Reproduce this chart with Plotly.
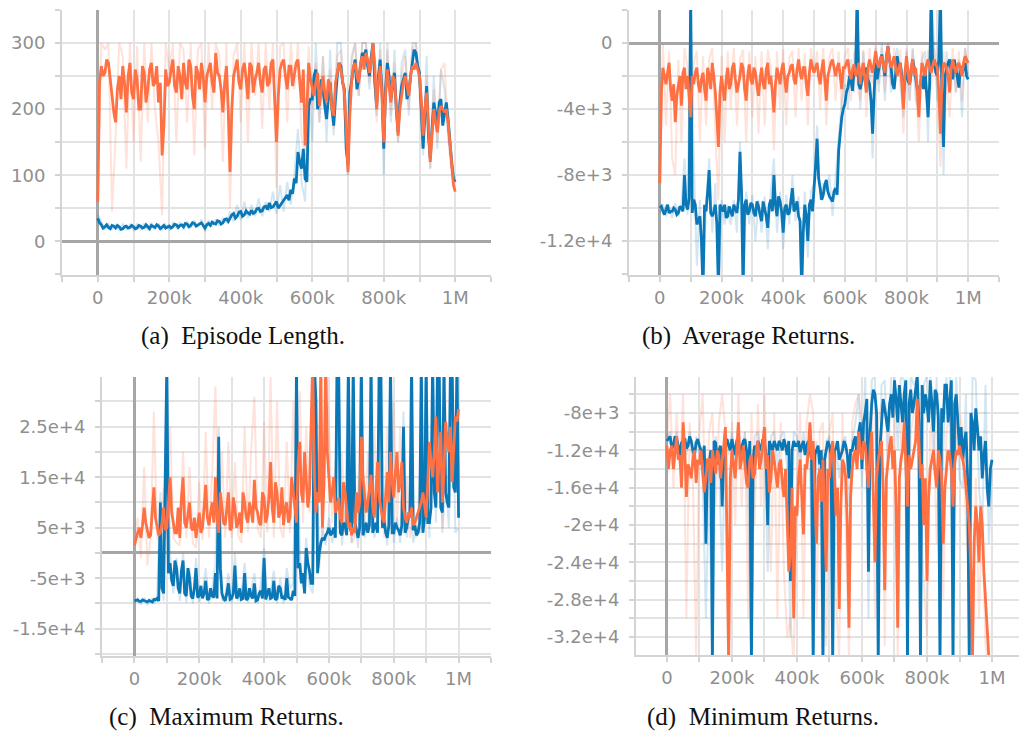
import numpy as np
import plotly.graph_objects as go

# ---------------- data ----------------
# main samples at 0, 10k, ..., 1M; "MID" samples at 5k, 15k, ..., 995k
STEPS = [i * 10000 for i in range(101)]
MID_STEPS = [5000 + i * 10000 for i in range(100)]
X_TICK_VALS = [i * 100000 for i in range(-1, 12)]
X_TICK_TEXT = ["", "0", "", "200k", "", "400k", "", "600k", "", "800k", "", "1M", ""]

# (a) Episode Length
A_BLUE = [35, 25, 22, 21, 24, 20, 22, 19, 23, 21,
          22, 20, 23, 21, 22, 24, 21, 23, 22, 20,
          23, 22, 25, 24, 22, 26, 24, 27, 25, 28,
          20, 27, 29, 26, 30, 28, 34, 36, 42, 38,
          45, 40, 43, 47, 44, 50, 46, 53, 58, 52,
          60, 55, 62, 70, 78, 95, 135, 110, 95, 205,
          215, 260, 215, 230, 185, 240, 175, 250, 265, 230,
          115, 245, 275, 245, 285, 290, 250, 300, 205, 275,
          140, 270, 215, 255, 165, 235, 255, 225, 270, 285,
          255, 140, 235, 125, 210, 170, 215, 195, 185, 120,
          90]
A_BLUE_MID = [28, 20, 25, 19, 23, 24, 18, 22, 20, 24,
              19, 24, 20, 25, 19, 22, 25, 19, 24, 22,
              20, 26, 21, 25, 27, 22, 28, 23, 26, 24,
              25, 24, 27, 31, 26, 33, 30, 40, 35, 44,
              38, 46, 41, 42, 49, 45, 52, 48, 51, 57,
              50, 58, 66, 62, 72, 88, 120, 140, 90, 215,
              250, 200, 245, 205, 215, 200, 215, 270, 240, 140,
              225, 260, 230, 270, 280, 265, 280, 240, 250, 230,
              230, 250, 235, 200, 210, 245, 215, 250, 290, 265,
              200, 190, 160, 170, 195, 210, 175, 210, 150, 95]
A_ORANGE = [60, 265, 255, 270, 220, 180, 250, 265, 195, 270,
            215, 245, 200, 255, 230, 270, 240, 210, 130, 260,
            240, 275, 225, 250, 270, 230, 265, 200, 255, 270,
            210, 260, 240, 285, 250, 195, 265, 105, 250, 275,
            230, 270, 215, 265, 245, 270, 225, 265, 240, 275,
            150, 260, 275, 230, 265, 250, 275, 210, 145, 270,
            230, 240, 205, 250, 210, 235, 190, 255, 260, 225,
            105, 240, 270, 240, 280, 285, 255, 300, 200, 265,
            150, 260, 210, 245, 160, 225, 250, 220, 265, 270,
            250, 160, 225, 120, 200, 165, 205, 195, 180, 110,
            75]
A_ORANGE_MID = [240, 250, 275, 240, 195, 230, 215, 240, 250, 225,
                260, 200, 265, 210, 260, 235, 265, 240, 175, 235,
                260, 235, 265, 215, 240, 275, 220, 265, 230, 250,
                250, 270, 225, 255, 230, 240, 200, 200, 265, 240,
                260, 245, 270, 225, 255, 240, 260, 235, 270, 215,
                220, 270, 250, 265, 235, 270, 240, 260, 200, 245,
                220, 255, 230, 225, 245, 200, 240, 270, 240, 170,
                190, 265, 250, 270, 260, 275, 270, 265, 240, 220,
                220, 235, 250, 205, 200, 240, 235, 250, 260, 260,
                215, 200, 175, 160, 180, 195, 200, 200, 150, 85]
A_ORANGE_RAW = [60, 300, 290, 300, 45, 160, 300, 280, 110, 300,
                150, 295, 120, 300, 180, 300, 200, 150, 40, 300,
                260, 300, 150, 300, 290, 180, 300, 130, 290, 300,
                140, 300, 200, 300, 280, 120, 300, 50, 280, 300,
                180, 300, 150, 300, 220, 300, 170, 300, 200, 300,
                80, 295, 300, 180, 300, 230, 300, 160, 130, 295,
                200, 270, 180, 280, 190, 260, 170, 280, 290, 200,
                100, 270, 300, 220, 300, 300, 240, 300, 180, 290,
                140, 290, 190, 270, 150, 250, 280, 200, 290, 300,
                230, 150, 250, 110, 230, 150, 260, 270, 160, 100,
                75]
A_BLUE_RAW = [40, 30, 17, 26, 18, 25, 17, 26, 18, 25,
              17, 26, 18, 27, 17, 28, 18, 27, 17, 25,
              18, 28, 20, 29, 18, 30, 20, 32, 21, 33,
              15, 32, 22, 33, 24, 35, 28, 45, 30, 55,
              32, 60, 35, 55, 38, 65, 38, 60, 45, 75,
              42, 85, 45, 90, 55, 100, 170, 90, 60, 250,
              150, 300, 180, 280, 150, 290, 160, 300, 300, 200,
              100, 280, 300, 220, 300, 300, 230, 300, 190, 300,
              100, 300, 180, 290, 150, 270, 290, 190, 300, 300,
              240, 130, 280, 110, 250, 140, 260, 230, 160, 110,
              95]

# (b) Average Returns
B_BLUE = [-10000, -10200, -10100, -10300, -10200, -10100, -10300, -10000, -8000, -10100,
          3000, -9500, -11000, -10500, -15000, -10200, -7700, -10500, -9800, -15000,
          -10000, -9800, -10500, -10200, -9800, -10300, -6600, -15000, -9500, -10200,
          -9800, -10500, -9900, -10800, -10000, -11200, -9500, -8000, -10500, -9600,
          -11500, -9800, -10300, -8800, -10000, -10500, -15000, -9800, -12000, -9500,
          -9000, -5800, -8800, -9200, -8300, -9300, -9600, -8800, -6500, -4500,
          -3700, -2700, -2300, -1600, 3000, -2800, -2000, -1500, -2500, -5500,
          -1200, -1500, -700, -2000, -200, -1500, -2800, -800, -1200, -3200,
          -1500, -2500, -1000, -2200, -3000, -2000, -1500, -4500, 3000, -1200,
          -2000, 3000, -6300, -1500, -1000, -2200, -1500, -2700, -1800, -1200,
          -2200]
B_BLUE_MID = [-9900, -10400, -9800, -10200, -10000, -10400, -9900, -10200, -9800, -9400,
              -10300, -9800, -10800, -12000, -9800, -9000, -10300, -10200, -11000, -9800,
              -10200, -10600, -9900, -10500, -10100, -9500, -9000, -9800, -10400, -9700,
              -10300, -9600, -10400, -9600, -10500, -9800, -10200, -9800, -9300, -10200,
              -10000, -10400, -9500, -10200, -9600, -10800, -11500, -10500, -9800, -10200,
              -7500, -8200, -9500, -8600, -9000, -9500, -9000, -9200, -5500, -4000,
              -3000, -2000, -2900, -1800, -2500, -2300, -1800, -2200, -3500, -3000,
              -2200, -1000, -1500, -800, -1000, -2500, -1800, -1500, -2000, -2200,
              -2300, -1800, -1500, -2800, -2500, -2800, -3000, -2500, -1500, -1800,
              -1000, -3500, -2000, -1200, -1800, -1000, -2200, -1400, -1600, -2000]
B_ORANGE = [-8500, -1500, -2500, -1200, -3500, -4800, -2500, -3800, -1500, -2000,
            -4500, -2500, -1500, -3000, -1800, -3500, -2000, -1200, -3000, -6300,
            -2000, -3500, -1500, -2500, -1200, -3000, -2000, -1500, -3500, -1300,
            -2500, -1800, -3200, -1500, -2800, -1200, -2000, -4200, -1500, -2500,
            -1200, -3000, -1800, -1300, -2500, -1000, -2200, -1500, -3200, -1000,
            -1800, -1200, -2500, -1000, -3500, -1500, -1000, -2000, -1200, -2800,
            -1500, -1000, -2200, -1300, -1800, -2500, -1200, -3000, -1000, -1800,
            -500, -1500, -800, -1800, -200, -1500, -800, -2000, -1200, -4000,
            -800, -2500, -1000, -1500, -4500, -1200, -2000, -1000, -1800, -1000,
            -1500, -5500, -1200, -1500, -3000, -1000, -1800, -1200, -2000, -800,
            -1200]
B_ORANGE_MID = [-3000, -2000, -1800, -2800, -2500, -3200, -2000, -1800, -2800, -3200,
                -2000, -1800, -2500, -2200, -2800, -1500, -2800, -2000, -4500, -3000,
                -2800, -2200, -2800, -1500, -2200, -2500, -1200, -2800, -2000, -2200,
                -1500, -2600, -2200, -2500, -1600, -2500, -3000, -2500, -2000, -1600,
                -2200, -2000, -1400, -2200, -1600, -1800, -1500, -2500, -1800, -1500,
                -1500, -2000, -1600, -2200, -2000, -1200, -1500, -1500, -2000, -1500,
                -1200, -1800, -1600, -2000, -1200, -1600, -2200, -1500, -1400, -1200,
                -1200, -1000, -1300, -900, -1000, -1200, -1500, -1500, -2500, -1800,
                -1800, -1500, -2000, -2800, -2500, -1500, -1300, -1500, -1400, -1300,
                -3000, -2500, -1300, -2000, -1500, -1500, -1400, -1600, -1200, -1000]
B_ORANGE_RAW = [-8500, 0, -5000, -500, -7000, -8000, -1000, -6000, -300, -1500,
                -7500, -1200, -500, -6000, -800, -5000, -1000, -300, -5500, -9500,
                -800, -6000, -500, -4000, -300, -5000, -1000, -400, -6000, -500,
                -4500, -800, -5500, -500, -5000, -400, -1500, -6500, -500, -4000,
                -400, -5000, -900, -500, -4500, -300, -3500, -600, -5000, -300,
                -2000, -500, -4000, -300, -5000, -800, -300, -3500, -500, -4000,
                -800, -300, -3500, -500, -2500, -3500, -400, -4500, -300, -2500,
                0, -2500, -300, -3000, 0, -2500, -300, -2000, -400, -5500,
                -300, -3500, -400, -2500, -6000, -500, -3000, -400, -2800, -300,
                -2500, -7500, -500, -2500, -4500, -300, -3000, -500, -3500, -300,
                -1500]
B_BLUE_RAW = [-10300, -9800, -10500, -9900, -10600, -9700, -10500, -9800, -7000, -10400,
              3000, -7000, -13500, -9500, -15000, -9800, -7000, -11500, -8500, -15000,
              -9500, -11000, -9800, -11000, -9500, -11500, -6000, -15000, -9000, -11000,
              -9200, -12000, -9500, -11500, -9300, -12500, -9000, -7000, -11500, -9000,
              -12500, -9200, -11000, -8000, -10800, -9300, -15000, -9000, -13000, -9000,
              -8500, -5000, -9500, -8500, -9000, -8000, -10500, -8000, -6000, -3500,
              -2500, -4000, -1000, -3000, 3000, -4000, -500, -3000, -1000, -7000,
              -300, -3000, 0, -3500, 0, -3000, -1500, -300, -2500, -4500,
              -500, -3500, -300, -3500, -4000, -1000, -500, -6000, 3000, -500,
              -3500, 3000, -8000, -500, -2500, -1000, -3000, -1000, -4500, -300,
              -2000]

# (c) Maximum Returns
C_BLUE = [-9500, -9300, -9600, -9400, -9700, -9500, -9200, -9000, 10000, -8000,
          38000, -2000, -6500, -3000, -8000, -1500, -8500, -5000, -9000, -3000,
          -8500, -9000, -5500, -9000, -8500, -4000, 23000, -8000, -9500, -6000,
          -9000, -2500, -8500, -9200, -4000, -9000, -8500, -6000, -9300, -7500,
          -1000, -8000, -9000, -5500, -9000, -7000, -8500, -5000, -9000, -7500,
          38000, -2000, -4000, 1000, -3500, -6000, 30000, 0, 3000, 3500,
          5000, 4000, 3000, 38000, 3500, 5500, 38000, 4000, 6000, 3000,
          38000, 5000, 4000, 38000, 5000, 4000, 38000, 6500, 3000, 38000,
          4000, 5000, 3500, 25000, 5000, 8000, 4500, 3500, 6000, 4000,
          38000, 6000, 38000, 9000, 38000, 8000, 12000, 9000, 38000, 12000,
          7000]
C_BLUE_MID = [-9400, -9600, -9300, -9600, -9400, -9700, -9300, -9500, -7000, 12000,
              -4000, -5500, -1500, -7000, -3500, -8000, -3000, -8500, -7000, -8800,
              -6500, -8000, -9300, -7000, -8800, -9000, -3000, -9000, -8000, -9200,
              -8000, -9000, -7000, -9000, -9300, -7000, -9000, -9500, -8000, -9000,
              -9200, -7000, -8800, -9300, -6500, -9000, -9300, -8800, -9300, -8500,
              -3000, -6000, -8000, -2000, -6000, 38000, -4000, 2000, 2500, 4000,
              3500, 5000, 38000, 4000, 6000, 3500, 5000, 38000, 4500, 5000,
              3500, 6000, 5500, 4000, 6000, 38000, 5000, 4000, 5500, 4000,
              6000, 4500, 5500, 4000, 7000, 38000, 5500, 4000, 38000, 7000,
              6000, 9000, 12000, 38000, 9000, 38000, 10000, 38000, 13000, 38000]
C_ORANGE = [1500, 4000, 3000, 9000, 4500, 3500, 13000, 5000, 4000, 9000,
            5000, 15000, 6000, 4000, 3000, 15000, 5000, 10000, 4500, 3000,
            8000, 5000, 13500, 5500, 10000, 15000, 4000, 9000, 5500, 12000,
            5000, 9000, 6000, 4000, 10000, 6000, 8500, 14500, 8000, 5500,
            11000, 7500, 18000, 6000, 12000, 8000, 5500, 10000, 7000, 11500,
            6000, 22000, 10000, 14000, 12000, 38000, 8000, 10000, 5000, 38000,
            15000, 12000, 8000, 11000, 6000, 12000, 5000, 3500, 4000, 8000,
            23000, 11000, 10000, 15500, 7000, 18000, 9000, 6000, 16000, 20000,
            11000, 20000, 14000, 9000, 6000, 7000, 5500, 7000, 9000, 12000,
            7000, 22000, 15000, 27000, 18000, 10000, 26000, 20000, 14000, 27000,
            28500]
C_ORANGE_MID = [3000, 5000, 5500, 6000, 3000, 8000, 7000, 3500, 6000, 4500,
                10000, 8000, 4000, 9000, 11000, 6000, 8000, 5000, 7000, 5500,
                4000, 9000, 7000, 8000, 6000, 7000, 12000, 6000, 9000, 4500,
                11000, 5000, 8000, 12000, 7000, 10000, 6000, 9000, 6000, 12000,
                6000, 11000, 9000, 14000, 7000, 13000, 9000, 6000, 15000, 9000,
                18000, 12000, 20000, 9000, 26000, 15000, 12000, 38000, 14000, 20000,
                10000, 15000, 9000, 7000, 14000, 8000, 6000, 5000, 12000, 10000,
                15000, 8000, 13000, 9000, 12000, 11000, 7000, 12000, 10000, 14000,
                16000, 12000, 18000, 7000, 8000, 9000, 6000, 8000, 10000, 9000,
                14000, 18000, 20000, 12000, 24000, 16000, 22000, 25000, 20000, 26000]
C_ORANGE_RAW = [2000, 7000, -1000, 17000, -2500, 3000, 28000, 3000, 2000, 13000,
                3000, 25000, 3000, 2000, 1500, 20000, 3000, 17000, 2000, 1000,
                14000, 2500, 24000, 3000, 16000, 33000, 2000, 20000, 3000, 22000,
                3000, 18000, 3500, 2000, 25000, 4000, 20000, 31000, 5000, 3000,
                26000, 4000, 35000, 3000, 30000, 5000, 3000, 22000, 4000, 30000,
                3000, 32000, 6000, 25000, 8000, 38000, 5000, 20000, 3000, 38000,
                25000, 6000, 18000, 5000, 20000, 4000, 15000, 2000, 3000, 12000,
                30000, 5000, 20000, 8000, 25000, 5000, 18000, 3000, 25000, 8000,
                30000, 5000, 25000, 4000, 15000, 3000, 10000, 3000, 15000, 5000,
                25000, 8000, 30000, 10000, 28000, 5000, 30000, 10000, 32000, 20000,
                28500]
C_BLUE_RAW = [-10000, -9000, -10200, -8800, -10300, -9000, -10100, -8500, 12000, -9500,
              38000, 0, -8000, -1000, -9500, 0, -9800, -3000, -10000, -1000,
              -9800, -8000, -3000, -10000, -7000, -2000, 25000, -9500, -8500, -4000,
              -10000, 0, -9500, -8000, -2000, -9800, -7500, -4000, -10000, -6000,
              1000, -9500, -7500, -3500, -10000, -5000, -10000, -3000, -7000, -6000,
              38000, 0, -7000, 3000, -6500, -8000, 32000, -3000, 5000, 1500,
              7000, 2000, 5000, 38000, 1500, 8000, 38000, 2000, 8000, 1000,
              38000, 3000, 6000, 38000, 3000, 6000, 38000, 9000, 1500, 38000,
              2000, 7000, 2000, 28000, 3000, 10000, 2000, 5000, 4000, 6000,
              38000, 3000, 38000, 6000, 38000, 4000, 15000, 5000, 38000, 4000,
              5000]

# (d) Minimum Returns
D_BLUE = [-11000, -10500, -11500, -10800, -12500, -11000, -11800, -10500, -12000, -11200,
          -11500, -13000, -22000, -13500, -35000, -11200, -12000, -18000, -11000, -11500,
          -10800, -12500, -11000, -11800, -10800, -15000, -35000, -11500, -11000, -12000,
          -11200, -20000, -11500, -11000, -12000, -11300, -10800, -12500, -26000, -11000,
          -11500, -12200, -11000, -11500, -12000, -35000, -12000, -13500, -35000, -12000,
          -11500, -35000, -11800, -13000, -12000, -11500, -15000, -12000, -10500, -10000,
          -14000, -8000, -25000, -7000, -6000, -35000, -9000, -7500, -10000, -6000,
          -4500, -9000, -7000, -6000, -35000, -5500, -7000, -4000, -35000, -8000,
          -7000, -4500, -10000, -6000, -35000, -9000, -5000, -6500, -35000, -6000,
          -12000, -13000, -10000, -35000, -9000, -7500, -12000, -15000, -11000, -18000,
          -13000]
D_BLUE_MID = [-10800, -11800, -10500, -11500, -11200, -10700, -11500, -11000, -12500, -10800,
              -12000, -11500, -13000, -12000, -11000, -13500, -11500, -12500, -10800, -12000,
              -11500, -11000, -12500, -11000, -12000, -11000, -13000, -12000, -11500, -10800,
              -12500, -11000, -12000, -11500, -11000, -12000, -11500, -11000, -12000, -11500,
              -11000, -11500, -12500, -11000, -13000, -12500, -11500, -12000, -13000, -11000,
              -12500, -12000, -11000, -12500, -11000, -12500, -12000, -11000, -13000, -9000,
              -9000, -6500, -10000, -5500, -8000, -12000, -6500, -9000, -7000, -8500,
              -6500, -5000, -9000, -4500, -7000, -8000, -5500, -9000, -5000, -6000,
              -9000, -7000, -5500, -8500, -7500, -5000, -9000, -4500, -7000, -8500,
              -9500, -11000, -15000, -8000, -12000, -9500, -10500, -12500, -16000, -14000]
D_ORANGE = [-11500, -12000, -14000, -10500, -12500, -9000, -17000, -14000, -13000, -15500,
            -13500, -14000, -15000, -13000, -12000, -14500, -12500, -13500, -9500, -35000,
            -12000, -15000, -9000, -13000, -14000, -16000, -12500, -14500, -11000, -13000,
            -9500, -12500, -15000, -13000, -16000, -13000, -17000, -20000, -23000, -30000,
            -19000, -13000, -21000, -14000, -9000, -11000, -22000, -14000, -13000, -25000,
            -15000, -11000, -19000, -29000, -13000, -15000, -31000, -14000, -12000, -10000,
            -13000, -11500, -16000, -10000, -24000, -13000, -11000, -27000, -13000, -10500,
            -12000, -31000, -13000, -9000, -18000, -14000, -12000, -6500, -15000, -20000,
            -26000, -14000, -12000, -16000, -13000, -22000, -14000, -12500, -18000, -12000,
            -11500, -13000, -16000, -20000, -34000, -18000, -24000, -20000, -28000, -34000,
            -35000]
D_ORANGE_MID = [-14000, -11500, -12500, -13000, -16000, -12000, -13500, -15000, -12000, -13000,
                -12000, -16500, -13000, -15500, -13500, -12000, -15000, -11500, -24000, -15000,
                -13500, -12000, -14000, -11500, -15500, -13000, -15000, -12000, -14000, -11500,
                -14000, -16500, -12000, -14500, -13500, -15500, -14000, -25000, -16000, -18000,
                -15000, -18000, -13500, -12000, -13000, -16500, -15000, -17500, -19000, -14000,
                -12500, -14000, -16000, -18000, -13500, -20000, -17000, -12500, -14000, -12000,
                -11000, -14000, -12000, -17000, -15000, -12000, -16000, -15000, -11500, -14000,
                -18000, -15000, -12000, -14000, -12500, -13000, -11000, -12000, -13500, -15000,
                -17000, -13000, -14500, -12000, -15000, -16000, -12000, -14000, -13500, -12500,
                -12500, -14000, -18000, -25000, -22000, -20000, -18000, -25000, -30000, -35000]
D_ORANGE_RAW = [-11000, -6000, -16000, -8000, -14000, -6000, -30000, -9000, -15000, -34000,
                -10000, -6000, -20000, -10000, -8000, -18000, -9000, -6000, -10000, -35000,
                -9000, -20000, -6000, -18000, -10000, -30000, -8000, -20000, -7000, -18000,
                -6000, -15000, -25000, -8000, -30000, -9000, -25000, -32000, -30000, -35000,
                -15000, -8000, -30000, -9000, -6000, -8000, -30000, -10000, -9000, -33000,
                -10000, -8000, -28000, -34000, -8000, -20000, -34000, -9000, -7000, -6000,
                -9000, -8000, -22000, -6000, -30000, -9000, -7000, -33000, -8000, -6000,
                -8000, -34000, -9000, -6000, -25000, -10000, -8000, -5000, -20000, -26000,
                -32000, -10000, -8000, -22000, -9000, -28000, -10000, -8000, -24000, -9000,
                -8000, -10000, -20000, -26000, -35000, -15000, -30000, -18000, -33000, -35000,
                -35000]
D_BLUE_RAW = [-10500, -10000, -12500, -10000, -13500, -10500, -12500, -10000, -13000, -10500,
              -12500, -15000, -30000, -15000, -35000, -10500, -13500, -25000, -10000, -12500,
              -10000, -14000, -10000, -13000, -10000, -18000, -35000, -10500, -10000, -13500,
              -10500, -25000, -10500, -10000, -13500, -10500, -10000, -14000, -32000, -10000,
              -10500, -13500, -10000, -12500, -13500, -35000, -11000, -15000, -35000, -11000,
              -10500, -35000, -11000, -15000, -11000, -10500, -18000, -11000, -9000, -6000,
              -16000, -4000, -30000, -4500, -4000, -35000, -5000, -4500, -14000, -4000,
              -4000, -12000, -4000, -4500, -35000, -4000, -5000, -4000, -35000, -5000,
              -4000, -4000, -14000, -4000, -35000, -12000, -4000, -4000, -35000, -4000,
              -15000, -16000, -6000, -35000, -4000, -4500, -16000, -20000, -5000, -22000,
              -14000]

CAPTIONS = ["(a)  Episode Length.", "(b)  Average Returns.",
            "(c)  Maximum Returns.", "(d)  Minimum Returns."]

# y tick definitions per panel
A_Y_VALS = [-50, 0, 50, 100, 150, 200, 250, 300, 350]
A_Y_TEXT = ["", "0", "", "100", "", "200", "", "300", ""]
B_Y_VALS = [-14000, -12000, -10000, -8000, -6000, -4000, -2000, 0, 2000]
B_Y_TEXT = ["", "-1.2e+4", "", "-8e+3", "", "-4e+3", "", "0", ""]
C_Y_VALS = [-20000, -15000, -10000, -5000, 0, 5000, 10000, 15000, 20000, 25000, 30000]
C_Y_TEXT = ["", "-1.5e+4", "", "-5e+3", "", "5e+3", "", "1.5e+4", "", "2.5e+4", ""]
D_Y_VALS = [-34000, -32000, -30000, -28000, -26000, -24000, -22000, -20000, -18000,
            -16000, -14000, -12000, -10000, -8000, -6000]
D_Y_TEXT = ["", "-3.2e+4", "", "-2.8e+4", "", "-2.4e+4", "", "-2e+4", "",
            "-1.6e+4", "", "-1.2e+4", "", "-8e+3", ""]


def merge(main, mid):
    xs, ys = [], []
    for i in range(len(mid)):
        xs += [STEPS[i], MID_STEPS[i]]
        ys += [main[i], mid[i]]
    xs.append(STEPS[len(mid)])
    ys.append(main[len(mid)])
    return xs, ys


# ---------------- styling ----------------
BLUE = "#0a77b7"
ORANGE = "#ff7043"
BLUE_RAW = "rgba(10,119,183,0.18)"
ORANGE_RAW = "rgba(255,112,67,0.2)"
GRID = "#e3e3e3"
AXLINE = "#d4d4d4"
ZERO = "#a6a6a6"
TICKFONT = dict(family="DejaVu Sans", size=18, color="#8f8f8f")

W, H = 1019, 731


def px_x(a, b):
    return [a / W, b / W]


def px_y(top, bottom):
    return [(H - bottom) / H, (H - top) / H]


panels = [
    dict(blue=(A_BLUE, A_BLUE_MID), orange=(A_ORANGE, A_ORANGE_MID), braw=A_BLUE_RAW, oraw=A_ORANGE_RAW,
         xd=px_x(62, 491), yd=px_y(10, 275), xr=[-100000, 1100000], yr=[-51, 350],
         yv=A_Y_VALS, yt=A_Y_TEXT, zero=True),
    dict(blue=(B_BLUE, B_BLUE_MID), orange=(B_ORANGE, B_ORANGE_MID), braw=B_BLUE_RAW, oraw=B_ORANGE_RAW,
         xd=px_x(629, 999), yd=px_y(10, 275), xr=[-100000, 1100000], yr=[-14060, 2000],
         yv=B_Y_VALS, yt=B_Y_TEXT, zero=True),
    dict(blue=(C_BLUE, C_BLUE_MID), orange=(C_ORANGE, C_ORANGE_MID), braw=C_BLUE_RAW, oraw=C_ORANGE_RAW,
         xd=px_x(102, 491), yd=px_y(377, 656), xr=[-100000, 1100000], yr=[-20400, 34850],
         yv=C_Y_VALS, yt=C_Y_TEXT, zero=True),
    dict(blue=(D_BLUE, D_BLUE_MID), orange=(D_ORANGE, D_ORANGE_MID), braw=D_BLUE_RAW, oraw=D_ORANGE_RAW,
         xd=px_x(636, 1019), yd=px_y(377, 655), xr=[-95000, 1083000], yr=[-33930, -4140],
         yv=D_Y_VALS, yt=D_Y_TEXT, zero=False),
]

fig = go.Figure()
layout = dict(width=W, height=H, margin=dict(l=0, r=0, t=0, b=0),
              paper_bgcolor="white", plot_bgcolor="white", showlegend=False)

for i, p in enumerate(panels):
    k = "" if i == 0 else str(i + 1)
    xa, ya = "x" + k, "y" + k
    for ys, col in [(p["braw"], BLUE_RAW), (p["oraw"], ORANGE_RAW)]:
        fig.add_trace(go.Scatter(x=STEPS, y=ys, mode="lines", xaxis=xa, yaxis=ya,
                                 line=dict(color=col, width=2), hoverinfo="skip"))
    for pair, col in [(p["blue"], BLUE), (p["orange"], ORANGE)]:
        xs, ys = merge(*pair)
        fig.add_trace(go.Scatter(x=xs, y=ys, mode="lines", xaxis=xa, yaxis=ya,
                                 line=dict(color=col, width=2.8), hoverinfo="skip"))
    layout["xaxis" + k] = dict(domain=p["xd"], range=p["xr"], anchor=ya,
                               tickmode="array", tickvals=X_TICK_VALS, ticktext=X_TICK_TEXT,
                               showgrid=True, gridcolor=GRID, gridwidth=1.5,
                               zeroline=True, zerolinecolor=ZERO, zerolinewidth=2.5,
                               showline=True, linecolor=AXLINE, linewidth=2,
                               ticks="outside", ticklen=5, tickcolor=AXLINE, tickwidth=2,
                               tickfont=TICKFONT, ticklabelstandoff=0, fixedrange=True)
    layout["yaxis" + k] = dict(domain=p["yd"], range=p["yr"], anchor=xa,
                               tickmode="array", tickvals=p["yv"], ticktext=p["yt"],
                               showgrid=True, gridcolor=GRID, gridwidth=1.5,
                               zeroline=p["zero"], zerolinecolor=ZERO, zerolinewidth=2.5,
                               showline=True, linecolor=AXLINE, linewidth=2,
                               ticks="outside", ticklen=5, tickcolor=AXLINE, tickwidth=2,
                               tickfont=TICKFONT, ticklabelstandoff=6, fixedrange=True)

fig.update_layout(**layout)

cap_pos = [(243, 336), (748, 336), (226, 717), (763, 717)]
for text, (cx, cy) in zip(CAPTIONS, cap_pos):
    fig.add_annotation(text=text, xref="paper", yref="paper", x=cx / W, y=(H - cy) / H,
                       showarrow=False, xanchor="center", yanchor="middle",
                       font=dict(family="Liberation Serif", size=25, color="#111111"))

fig.write_html("out.html")
